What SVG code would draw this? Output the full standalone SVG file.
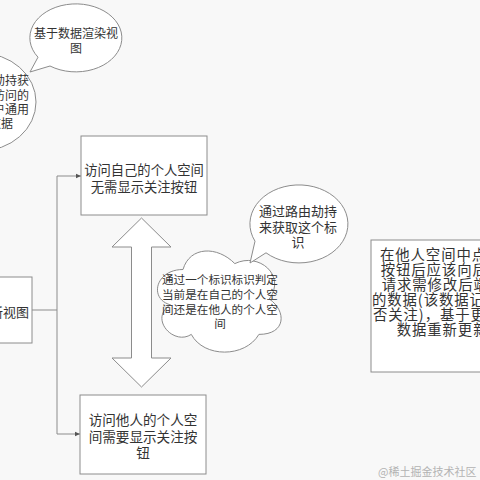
<svg xmlns="http://www.w3.org/2000/svg" width="480" height="480" viewBox="0 0 480 480">
<defs>
<style>
.shape{fill:#ffffff;stroke:#8c8c8c;stroke-width:1}
.t{font-family:"Noto Sans CJK SC","Noto Sans",sans-serif;fill:#333333}
.c{text-anchor:middle}
.conn{fill:none;stroke:#8c8c8c;stroke-width:1}
</style>
<marker id="arr" markerWidth="6" markerHeight="6" refX="5" refY="3" orient="auto" markerUnits="userSpaceOnUse">
<path d="M0,0.8 L5,3 L0,5.2 Z" fill="#555555"/>
</marker>
</defs>
<rect width="480" height="480" fill="#f8f8f8"/>

<g id="connectors">
<path class="conn" d="M32,310 H57"/>
<path class="conn" d="M57,176 V434"/>
<path class="conn" d="M57,176 H81" marker-end="url(#arr)"/>
<path class="conn" d="M57,434 H80" marker-end="url(#arr)"/>
</g>

<g id="bubble-left">
<ellipse class="shape" cx="-20" cy="102" rx="56" ry="49"/>
<text class="t" font-size="12" text-anchor="end"><tspan x="29" y="84.5">通过路由劫持获</tspan><tspan x="29" y="99.5">取当前访问的</tspan><tspan x="29" y="113.5">的用户通用</tspan><tspan x="13" y="127.5">数据</tspan></text>
</g>

<g id="bubble-top">
<path class="shape" d="M38,57.2 L30,72 L50,66 A46,34 0 1,0 38,57.2 Z"/>
<text class="t c" font-size="12"><tspan x="76" y="37.5">基于数据渲染视</tspan><tspan x="76" y="52.5">图</tspan></text>
</g>

<g id="box-refresh">
<rect class="shape" x="-30" y="277" width="62" height="66"/>
<text class="t" font-size="13" text-anchor="end" x="29" y="317">刷新视图</text>
</g>

<g id="box-own">
<rect class="shape" x="81" y="136" width="126" height="79"/>
<text class="t c" font-size="13.3"><tspan x="144" y="175">访问自己的个人空间</tspan><tspan x="144" y="191.5">无需显示关注按钮</tspan></text>
</g>

<g id="box-other">
<rect class="shape" x="80" y="395" width="126" height="79"/>
<text class="t c" font-size="13.6"><tspan x="143" y="425">访问他人的个人空</tspan><tspan x="143" y="442">间需要显示关注按</tspan><tspan x="143" y="458">钮</tspan></text>
</g>

<g id="double-arrow">
<polygon class="shape" points="141.5,218 112,247 131.5,247 131.5,358 112,358 141.5,387 171,358 151.5,358 151.5,247 171,247"/>
</g>

<g id="cloud">
<path class="shape" d="M183,269.5 C155.4,269.5 148.5,299 170.6,304.9 C148.5,317.9 173.3,346.2 191.3,334.4 C203.7,358 245.1,358 258.9,334.4 C286.5,334.4 286.5,310.8 269.3,299 C286.5,275.4 258.9,251.8 234.8,263.6 C217.5,245.9 189.9,245.9 183,269.5 Z"/>
<text class="t c" font-size="11.6"><tspan x="220" y="284.3">通过一个标识标识判定</tspan><tspan x="220" y="299.3">当前是在自己的个人空</tspan><tspan x="220" y="314.3">间还是在他人的个人空</tspan><tspan x="220" y="328.3">间</tspan></text>
</g>

<g id="bubble-right">
<path class="shape" d="M255,241.2 L250,263 L266,252.8 A49,39 0 1,0 255,241.2 Z"/>
<text class="t c" font-size="13"><tspan x="298" y="216">通过路由劫持</tspan><tspan x="298" y="232">来获取这个标</tspan><tspan x="298" y="247">识</tspan></text>
</g>

<g id="box-note">
<rect class="shape" x="371" y="240" width="160" height="132"/>
<text class="t" font-size="14.4" letter-spacing="0.9"><tspan x="380" y="260.3">在他人空间中点击关注</tspan><tspan x="380.7" y="275.3">按钮后应该向后端发送</tspan><tspan x="381.7" y="290.3">请求需修改后端存储的</tspan><tspan x="372" y="305">的数据(该数据记录是否</tspan><tspan x="373" y="320">否关注)，基于更新后的</tspan><tspan x="396.7" y="335.3">数据重新更新视图</tspan></text>
</g>

<text class="t" font-size="11" x="378" y="476" style="fill:#b3b3b3">@稀土掘金技术社区</text>
</svg>
